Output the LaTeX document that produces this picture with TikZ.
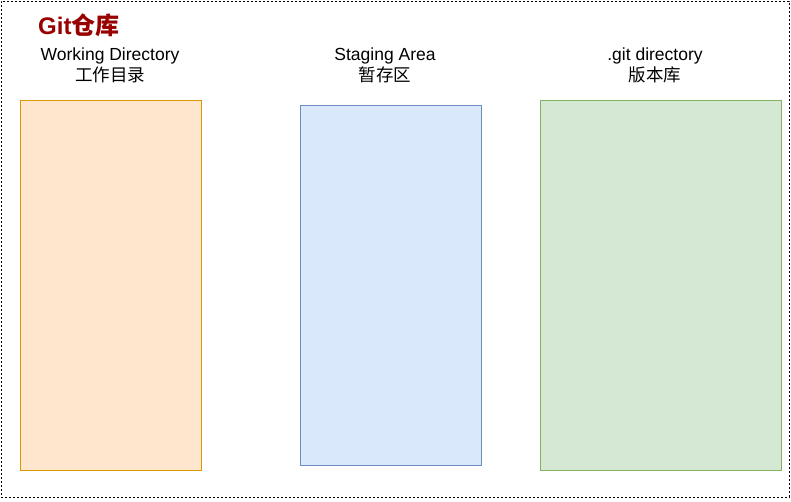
\documentclass[tikz,border=0pt]{standalone}
\usepackage{fontspec}
\setmainfont{Liberation Sans}
\newfontfamily\cjk{Noto Sans CJK SC}
\newfontfamily\cjkb{Noto Sans CJK SC Bold}
\definecolor{orfill}{HTML}{FFE6CC}
\definecolor{ordraw}{HTML}{D79B00}
\definecolor{blfill}{HTML}{DAE8FC}
\definecolor{bldraw}{HTML}{6C8EBF}
\definecolor{grfill}{HTML}{D5E8D4}
\definecolor{grdraw}{HTML}{82B366}
\definecolor{titlered}{HTML}{990000}
\begin{document}
\begin{tikzpicture}[x=1pt,y=-1pt,
  areabox/.style={draw, line width=0.8pt},
  lbl/.style={align=center, inner sep=0pt, font=\fontsize{17.5}{21}\selectfont}]
\useasboundingbox (0,0) rectangle (791,501);
\node[draw, dash pattern=on 2pt off 2pt, line width=0.8pt, minimum width=788pt, minimum height=496pt, inner sep=0pt, anchor=north west] (frame) at (1,1) {};
\node[anchor=west, inner sep=0pt, text=titlered, font=\fontsize{24}{28}\selectfont\bfseries] (title) at (38,25) {Git{\cjkb 仓库}};
\node[areabox, fill=orfill, draw=ordraw, anchor=north west, minimum width=181pt, minimum height=370pt, inner sep=0pt] (wd) at (20,100) {};
\node[areabox, fill=blfill, draw=bldraw, anchor=north west, minimum width=181pt, minimum height=360pt, inner sep=0pt] (sa) at (300,105) {};
\node[areabox, fill=grfill, draw=grdraw, anchor=north west, minimum width=241pt, minimum height=370pt, inner sep=0pt] (gd) at (540,100) {};
\node[lbl] (wdl) at (110,65) {Working Directory\\{\cjk 工作目录}};
\node[lbl] (sal) at (385,65) {Staging Area\\{\cjk 暂存区}};
\node[lbl] (gdl) at (655,65) {.git directory\\{\cjk 版本库}};
\end{tikzpicture}
\end{document}
